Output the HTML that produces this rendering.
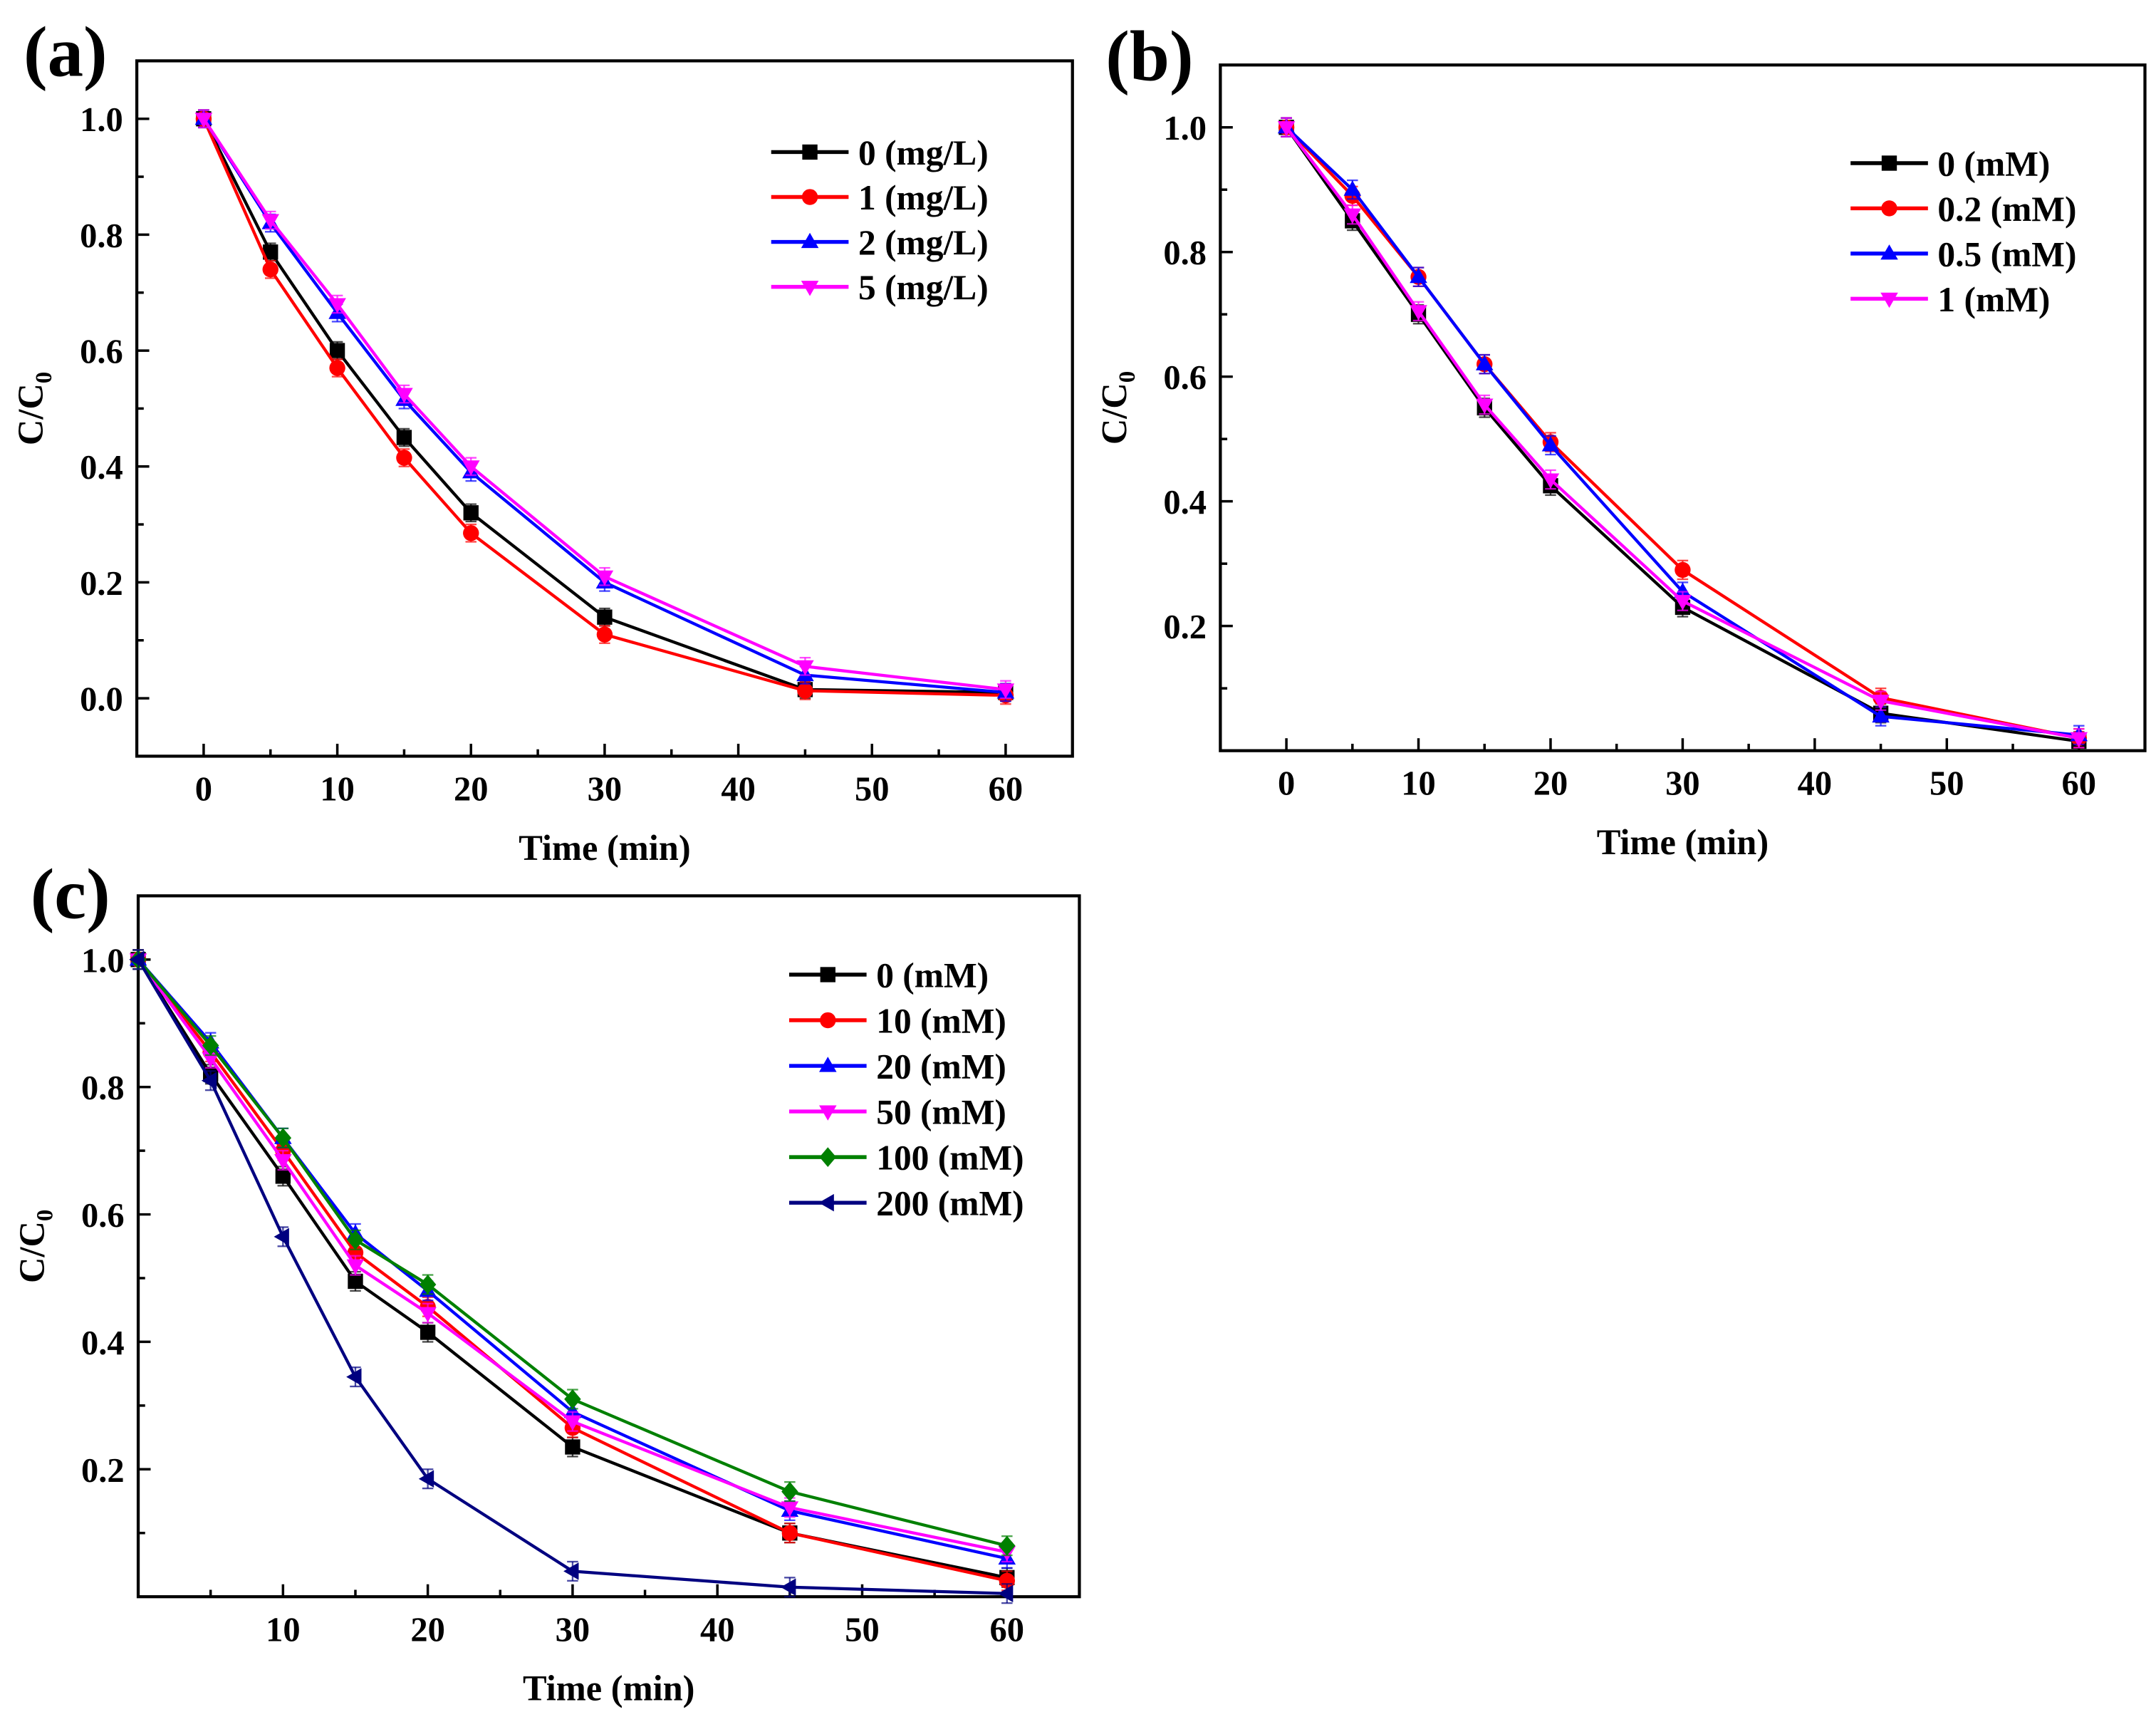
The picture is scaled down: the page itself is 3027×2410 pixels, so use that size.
<!DOCTYPE html>
<html><head><meta charset="utf-8"><style>
html,body{margin:0;padding:0;background:#fff}
svg{display:block}
text{font-family:"Liberation Serif",serif;font-weight:bold;fill:#000}
</style></head><body>
<svg id="fig" width="3027" height="2410" viewBox="0 0 1560 1242" xmlns="http://www.w3.org/2000/svg"></svg>
<script>
const times = [0, 5, 10, 15, 20, 30, 45, 60];
// Panel (a)
const aLabels = ["0 (mg/L)", "1 (mg/L)", "2 (mg/L)", "5 (mg/L)"];
const a0 = [1, 0.77, 0.60, 0.45, 0.32, 0.14, 0.015, 0.01];
const a1 = [1, 0.74, 0.57, 0.415, 0.285, 0.11, 0.013, 0.005];
const a2 = [1, 0.82, 0.665, 0.515, 0.39, 0.20, 0.04, 0.01];
const a5 = [1, 0.825, 0.68, 0.525, 0.40, 0.21, 0.055, 0.015];
// Panel (b)
const bLabels = ["0 (mM)", "0.2 (mM)", "0.5 (mM)", "1 (mM)"];
const b0 = [1, 0.85, 0.70, 0.55, 0.425, 0.23, 0.06, 0.015];
const b02 = [1, 0.89, 0.76, 0.62, 0.495, 0.29, 0.085, 0.02];
const b05 = [1, 0.90, 0.76, 0.62, 0.49, 0.255, 0.055, 0.025];
const b1 = [1, 0.86, 0.705, 0.555, 0.435, 0.24, 0.08, 0.02];
// Panel (c)
const cLabels = ["0 (mM)", "10 (mM)", "20 (mM)", "50 (mM)", "100 (mM)", "200 (mM)"];
const c0 = [1, 0.82, 0.66, 0.495, 0.415, 0.235, 0.10, 0.03];
const c10 = [1, 0.855, 0.70, 0.54, 0.455, 0.265, 0.10, 0.025];
const c20 = [1, 0.87, 0.72, 0.57, 0.48, 0.29, 0.135, 0.06];
const c50 = [1, 0.845, 0.685, 0.52, 0.445, 0.275, 0.14, 0.07];
const c100 = [1, 0.865, 0.72, 0.56, 0.49, 0.31, 0.165, 0.08];
const c200 = [1, 0.81, 0.565, 0.345, 0.185, 0.04, 0.015, 0.005];
const xTicksAB = [0, 10, 20, 30, 40, 50, 60];
const xTicksC = [10, 20, 30, 40, 50, 60];
const yTicksA = [0.0, 0.2, 0.4, 0.6, 0.8, 1.0];
const yTicksBC = [0.2, 0.4, 0.6, 0.8, 1.0];

const NS = "http://www.w3.org/2000/svg";
const svg = document.getElementById("fig");
function mk(tag, attrs, parent) {
  const e = document.createElementNS(NS, tag);
  for (const k in attrs) e.setAttribute(k, attrs[k]);
  (parent || svg).appendChild(e);
  return e;
}
function marker(g, type, x, y, color, r) {
  let e;
  if (type === "square") e = mk("rect", {x: x - r, y: y - r, width: 2 * r, height: 2 * r, fill: color}, g);
  else if (type === "circle") e = mk("circle", {cx: x, cy: y, r: r * 1.05, fill: color}, g);
  else if (type === "up") e = mk("polygon", {points: `${x},${y - r * 1.2} ${x - r * 1.15},${y + r * 0.8} ${x + r * 1.15},${y + r * 0.8}`, fill: color}, g);
  else if (type === "down") e = mk("polygon", {points: `${x},${y + r * 1.2} ${x - r * 1.15},${y - r * 0.8} ${x + r * 1.15},${y - r * 0.8}`, fill: color}, g);
  else if (type === "diamond") e = mk("polygon", {points: `${x},${y - r * 1.3} ${x + r * 1.1},${y} ${x},${y + r * 1.3} ${x - r * 1.1},${y}`, fill: color}, g);
  else e = mk("polygon", {points: `${x - r * 1.2},${y} ${x + r * 0.8},${y - r * 1.15} ${x + r * 0.8},${y + r * 1.15}`, fill: color}, g);
  return e;
}
function panel(cfg) {
  const g = mk("g", {});
  
  
  const X = v => cfg.L + (v - cfg.xmin) / (cfg.xmax - cfg.xmin) * (cfg.R - cfg.L);
  const Y = v => cfg.B - (v - cfg.ymin) / (cfg.ymax - cfg.ymin) * (cfg.B - cfg.T);
  for (let v = Math.ceil(cfg.xmin / 5) * 5; v <= cfg.xmax; v += 5) {
    if (v <= cfg.xmin || v >= cfg.xmax) continue;
    const major = v % 10 === 0;
    mk("line", {x1: X(v), x2: X(v), y1: cfg.B, y2: cfg.B - (major ? 9 : 5), stroke: "#000", "stroke-width": 1.8}, g);
  }
  cfg.xt.forEach(v => {
    const t = mk("text", {x: X(v), y: cfg.B + 32, "font-size": 25, "text-anchor": "middle"}, g);
    t.textContent = String(v);
    
    
  });
  for (let i = Math.ceil(cfg.ymin * 10); i <= Math.floor(cfg.ymax * 10); i++) {
    const v = i / 10;
    if (v <= cfg.ymin || v >= cfg.ymax) continue;
    const major = i % 2 === 0;
    mk("line", {x1: cfg.L, x2: cfg.L + (major ? 9 : 5), y1: Y(v), y2: Y(v), stroke: "#000", "stroke-width": 1.8}, g);
  }
  cfg.yt.forEach(v => {
    const t = mk("text", {x: cfg.L - 10, y: Y(v) + 9, "font-size": 25, "text-anchor": "end"}, g);
    t.textContent = v.toFixed(1);
    
    
  });
  const box = mk("rect", {x: cfg.L, y: cfg.T, width: cfg.R - cfg.L, height: cfg.B - cfg.T, fill: "none", stroke: "#000", "stroke-width": 2.2}, g);
  
  
  const xt = mk("text", {x: (cfg.L + cfg.R) / 2, y: cfg.B + 75, "font-size": 26, "text-anchor": "middle"}, g);
  xt.textContent = "Time (min)";
  
  
  const yx = cfg.L - 68, yy = (cfg.T + cfg.B) / 2;
  const yt = mk("text", {x: yx, y: yy, "font-size": 26, "text-anchor": "middle", transform: `rotate(-90 ${yx} ${yy})`}, g);
  yt.innerHTML = 'C/C<tspan font-size="17" dy="6">0</tspan>';
  
  
  const pl = mk("text", {x: cfg.plx, y: cfg.ply, "font-size": 52}, g);
  pl.textContent = cfg.label;
  
  
  cfg.series.forEach((s, si) => {
    const sg = mk("g", {}, g);
    
    
    const pts = times.map((t, i) => X(t) + "," + Y(s.data[i])).join(" ");
    mk("polyline", {points: pts, fill: "none", stroke: s.color, "stroke-width": 2.2}, sg);
    times.forEach((t, i) => {
      const x = X(t), y = Y(s.data[i]);
      const e = 0.015 * (cfg.B - cfg.T) / (cfg.ymax - cfg.ymin);
      mk("line", {x1: x, x2: x, y1: y - e, y2: y + e, stroke: s.color, "stroke-width": 1.2, opacity: 0.7}, sg);
      mk("line", {x1: x - 4, x2: x + 4, y1: y - e, y2: y - e, stroke: s.color, "stroke-width": 1.2, opacity: 0.7}, sg);
      mk("line", {x1: x - 4, x2: x + 4, y1: y + e, y2: y + e, stroke: s.color, "stroke-width": 1.2, opacity: 0.7}, sg);
      const m = marker(sg, s.marker, x, y, s.color, 5.5);
      
      
    });
    const ly = cfg.legY + si * cfg.legStep;
    const lg = mk("g", {}, g);
    
    
    mk("line", {x1: cfg.legX, x2: cfg.legX + 56, y1: ly, y2: ly, stroke: s.color, "stroke-width": 2.8}, lg);
    marker(lg, s.marker, cfg.legX + 28, ly, s.color, 5.5);
    const lt = mk("text", {x: cfg.legX + 63, y: ly + 9, "font-size": 25.5}, lg);
    lt.textContent = s.label;
  });
}
panel({name: "panel-a", label: "(a)", plx: 17, ply: 55, L: 99, R: 776, T: 44, B: 547, xmin: -5, xmax: 65, ymin: -0.1, ymax: 1.1,
  xt: xTicksAB, yt: yTicksA, legX: 558, legY: 110, legStep: 32.5,
  series: [
    {label: aLabels[0], data: a0, color: "#000", marker: "square"},
    {label: aLabels[1], data: a1, color: "#ff0000", marker: "circle"},
    {label: aLabels[2], data: a2, color: "#0000ff", marker: "up"},
    {label: aLabels[3], data: a5, color: "#ff00ff", marker: "down"}]});
panel({name: "panel-b", label: "(b)", plx: 800, ply: 58, L: 883, R: 1552, T: 47, B: 543, xmin: -5, xmax: 65, ymin: 0, ymax: 1.1,
  xt: xTicksAB, yt: yTicksBC, legX: 1339, legY: 118, legStep: 32.7,
  series: [
    {label: bLabels[0], data: b0, color: "#000", marker: "square"},
    {label: bLabels[1], data: b02, color: "#ff0000", marker: "circle"},
    {label: bLabels[2], data: b05, color: "#0000ff", marker: "up"},
    {label: bLabels[3], data: b1, color: "#ff00ff", marker: "down"}]});
panel({name: "panel-c", label: "(c)", plx: 22, ply: 664, L: 100, R: 781, T: 648, B: 1155, xmin: 0, xmax: 65, ymin: 0, ymax: 1.1,
  xt: xTicksC, yt: yTicksBC, legX: 571, legY: 705, legStep: 33,
  series: [
    {label: cLabels[0], data: c0, color: "#000", marker: "square"},
    {label: cLabels[1], data: c10, color: "#ff0000", marker: "circle"},
    {label: cLabels[2], data: c20, color: "#0000ff", marker: "up"},
    {label: cLabels[3], data: c50, color: "#ff00ff", marker: "down"},
    {label: cLabels[4], data: c100, color: "#008000", marker: "diamond"},
    {label: cLabels[5], data: c200, color: "#000080", marker: "left"}]});
</script>
</body></html>
